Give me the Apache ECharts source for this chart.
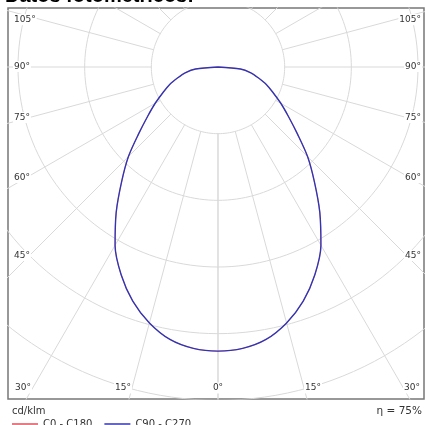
<!DOCTYPE html>
<html>
<head>
<meta charset="utf-8">
<script src="https://cdn.jsdelivr.net/npm/echarts@6/dist/echarts.min.js"></script>
<style>
  html, body { margin: 0; padding: 0; background: #fff; }
  #chart { width: 425px; height: 425px; }
</style>
</head>
<body>
<div id="chart"></div>
<script>
// 光度角 γ（度，0 = 垂直向下）
const gammaAngles = [0, 5, 10, 15, 20, 25, 30, 35, 40, 45, 50, 55, 60, 65, 70, 75, 80, 85, 90];
// C0 - C180 平面 cd/klm
const c0c180 = [341, 339, 332, 318, 299, 275, 247, 213, 180, 152, 124, 103, 87, 73, 62, 50, 40, 27, 0];
// C90 - C270 平面 cd/klm
const c90c270 = [341, 339, 332, 318, 299, 275, 247, 213, 180, 152, 124, 103, 87, 73, 62, 50, 40, 27, 0];

// 网格：同心圆、放射线、刻度文字
const ringValues = [80, 160, 240, 320, 400, 480];
const ringLabels = [160, 240, 320];
const spokeAngles = [0, 15, 30, 45, 60, 75, 90, 105, 120, 135, 150, 165, 180];
const sideLabels = ["105°", "90°", "75°", "60°", "45°"];
const bottomLabels = ["30°", "15°", "0°", "15°", "30°"];

const rad = (d) => (d * Math.PI) / 180;
// 极坐标 -> 直角坐标（side: -1 左侧, 1 右侧）
const toXY = (g, v, side) => [side * v * Math.sin(rad(g)), -v * Math.cos(rad(g))];

const curveData = (values) => {
  const pts = [];
  for (let i = gammaAngles.length - 1; i >= 0; i--) pts.push(toXY(gammaAngles[i], values[i], -1));
  for (let i = 1; i < gammaAngles.length; i++) pts.push(toXY(gammaAngles[i], values[i], 1));
  return pts;
};

const gridStyle = { color: "#d9d9d9", width: 1 };
const series = [];

ringValues.forEach((r) => {
  const pts = [];
  for (let a = 0; a <= 360; a += 2) pts.push(toXY(a, r, 1));
  series.push({ type: "line", data: pts, symbol: "none", silent: true, lineStyle: gridStyle, z: 1 });
});

spokeAngles.forEach((a) => {
  [-1, 1].forEach((side) => {
    series.push({
      type: "line",
      data: [toXY(a, 80, side), toXY(a, 700, side)],
      symbol: "none",
      silent: true,
      lineStyle: gridStyle,
      z: 1,
    });
  });
});

series.push({
  name: "C0 - C180",
  type: "line",
  data: curveData(c0c180),
  symbol: "none",
  smooth: 0.3,
  lineStyle: { color: "#e0505c", width: 0.6 },
  itemStyle: { color: "#e0505c" },
  z: 3,
});
series.push({
  name: "C90 - C270",
  type: "line",
  data: curveData(c90c270),
  symbol: "none",
  smooth: 0.3,
  lineStyle: { color: "#3534b0", width: 1.4 },
  itemStyle: { color: "#3534b0" },
  z: 4,
});

series.push({
  type: "scatter",
  data: ringLabels.map((v) => [0, -v]),
  symbolSize: 1,
  itemStyle: { opacity: 0 },
  silent: true,
  z: 5,
  label: {
    show: true,
    position: "inside",
    formatter: (p) => String(ringLabels[p.dataIndex]),
    fontFamily: "DejaVu Sans",
    fontSize: 9,
    color: "#333",
    backgroundColor: "#fff",
    padding: [1, 1],
  },
});

const labelFont = '9px "DejaVu Sans"';
const graphics = [];
const sideY = [20, 67, 118, 178, 256];
sideLabels.forEach((t, i) => {
  graphics.push({ type: "text", left: 13, top: sideY[i] - 6, z: 100,
    style: { text: t, font: labelFont, fill: "#333", backgroundColor: "#fff", padding: [1, 1] } });
  graphics.push({ type: "text", right: 3, top: sideY[i] - 6, z: 100,
    style: { text: t, font: labelFont, fill: "#333", backgroundColor: "#fff", padding: [1, 1] } });
});
const bottomX = [23, 123, 218, 313, 412];
bottomLabels.forEach((t, i) => {
  graphics.push({ type: "text", x: bottomX[i], y: 388, z: 100,
    style: { text: t, font: labelFont, fill: "#333", align: "center", verticalAlign: "middle",
      backgroundColor: "#fff", padding: [1, 1] } });
});
graphics.push({ type: "text", x: 5, y: -3.2, z: 100,
  style: { text: "Datos fotométricos:", font: 'bold 20px "Liberation Sans"', fill: "#000", verticalAlign: "middle" } });
graphics.push({ type: "text", x: 12, y: 411, z: 100,
  style: { text: "cd/klm", font: '10px "DejaVu Sans"', fill: "#333", verticalAlign: "middle" } });
graphics.push({ type: "text", x: 422, y: 411, z: 100,
  style: { text: "η = 75%", font: '10.5px "DejaVu Sans"', fill: "#333", align: "right", verticalAlign: "middle" } });

const chart = echarts.init(document.getElementById("chart"));
chart.setOption({
  animation: false,
  backgroundColor: "#fff",
  grid: {
    left: 8, top: 8, right: 1, bottom: 26,
    show: true, borderColor: "#777", borderWidth: 1.5, backgroundColor: "#fff",
  },
  xAxis: { type: "value", min: -252, max: 247.2, show: false },
  yAxis: { type: "value", min: -398.4, max: 70.8, show: false },
  legend: {
    data: ["C0 - C180", "C90 - C270"],
    left: 12, top: 419, padding: 0,
    icon: "rect", itemWidth: 26, itemHeight: 1.5, itemGap: 12,
    textStyle: { fontFamily: "DejaVu Sans", fontSize: 10, color: "#333" },
  },
  graphic: graphics,
  series: series,
});
</script>
</body>
</html>
